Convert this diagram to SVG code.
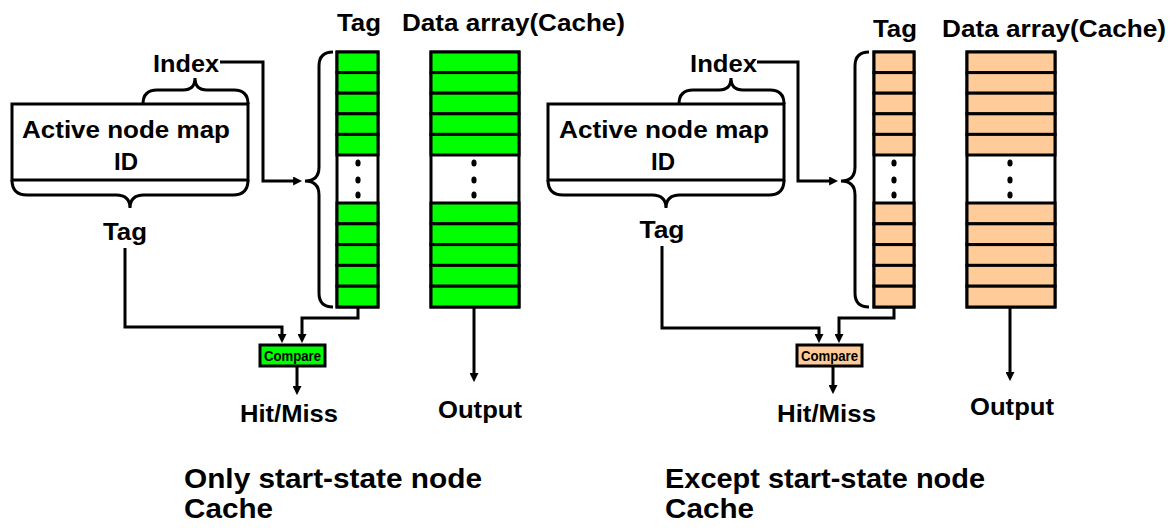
<svg xmlns="http://www.w3.org/2000/svg" width="1176" height="528" viewBox="0 0 1176 528">
  <style>
    text { font-family: "Liberation Sans", Arial, sans-serif; font-weight: bold; fill: #000; }
    .lbl { font-size: 24px; }
    .cap { font-size: 28px; }
    .cmp { font-size: 14px; }
    .line { fill: none; stroke: #000; stroke-width: 3; }
    .arr { fill: none; stroke: #000; stroke-width: 3; marker-end: url(#head); }
    .box { fill: #fff; stroke: #000; stroke-width: 3; }
    .green { fill: #00ff00; stroke: #000; stroke-width: 3; }
    .peach { fill: #ffcc99; stroke: #000; stroke-width: 3; }
    .dot { fill: #000; }
  </style>
  <defs>
    <marker id="head" viewBox="0 0 10 10" refX="1" refY="5" markerWidth="9" markerHeight="9" markerUnits="userSpaceOnUse" orient="auto">
      <path d="M0,0 L10,5 L0,10 z" fill="#000"/>
    </marker>
  </defs>

  <!-- ===== Left: only start-state node cache ===== -->
  <g id="left-address">
    <rect class="box" x="12" y="104" width="236" height="76"/>
    <text class="lbl" x="126" y="138" text-anchor="middle" textLength="208" lengthAdjust="spacingAndGlyphs">Active node map</text>
    <text class="lbl" x="126" y="170" text-anchor="middle">ID</text>
    <path class="line" d="M143,104 Q143,90 157,90 H183 Q195,90 195,78 Q195,90 207,90 H234 Q248,90 248,104"/>
    <path class="line" d="M12,180 Q12,195 27,195 H116 Q130,195 130,208 Q130,195 144,195 H233 Q248,195 248,180"/>
    <text class="lbl" x="186" y="72" text-anchor="middle" textLength="66" lengthAdjust="spacingAndGlyphs">Index</text>
    <text class="lbl" x="125" y="240" text-anchor="middle" textLength="44" lengthAdjust="spacingAndGlyphs">Tag</text>
  </g>

  <g id="left-tag-array">
    <text class="lbl" x="359" y="31" text-anchor="middle" textLength="44" lengthAdjust="spacingAndGlyphs">Tag</text>
    <path class="line" d="M333,52 Q319,52 319,66 V167 Q319,181 305,181 Q319,181 319,195 V293 Q319,307 333,307"/>
    <rect class="box" x="337" y="52" width="41" height="255"/>
    <rect class="green" x="337" y="52" width="41" height="20.6"/>
    <rect class="green" x="337" y="72.6" width="41" height="20.6"/>
    <rect class="green" x="337" y="93.2" width="41" height="20.6"/>
    <rect class="green" x="337" y="113.8" width="41" height="20.6"/>
    <rect class="green" x="337" y="134.4" width="41" height="20.6"/>
    <rect class="green" x="337" y="203" width="41" height="20.8"/>
    <rect class="green" x="337" y="223.8" width="41" height="20.8"/>
    <rect class="green" x="337" y="244.6" width="41" height="20.8"/>
    <rect class="green" x="337" y="265.4" width="41" height="20.8"/>
    <rect class="green" x="337" y="286.2" width="41" height="20.8"/>
    <ellipse class="dot" cx="358" cy="163" rx="2.6" ry="3.6"/>
    <ellipse class="dot" cx="358" cy="180" rx="2.6" ry="3.6"/>
    <ellipse class="dot" cx="358" cy="195" rx="2.6" ry="3.6"/>
  </g>

  <g id="left-data-array">
    <text class="lbl" x="402" y="31" textLength="223" lengthAdjust="spacingAndGlyphs">Data array(Cache)</text>
    <rect class="box" x="431" y="52" width="88" height="255"/>
    <rect class="green" x="431" y="52" width="88" height="20.6"/>
    <rect class="green" x="431" y="72.6" width="88" height="20.6"/>
    <rect class="green" x="431" y="93.2" width="88" height="20.6"/>
    <rect class="green" x="431" y="113.8" width="88" height="20.6"/>
    <rect class="green" x="431" y="134.4" width="88" height="20.6"/>
    <rect class="green" x="431" y="203" width="88" height="20.8"/>
    <rect class="green" x="431" y="223.8" width="88" height="20.8"/>
    <rect class="green" x="431" y="244.6" width="88" height="20.8"/>
    <rect class="green" x="431" y="265.4" width="88" height="20.8"/>
    <rect class="green" x="431" y="286.2" width="88" height="20.8"/>
    <ellipse class="dot" cx="474" cy="163" rx="2.6" ry="3.6"/>
    <ellipse class="dot" cx="474" cy="180" rx="2.6" ry="3.6"/>
    <ellipse class="dot" cx="474" cy="195" rx="2.6" ry="3.6"/>
  </g>

  <g id="left-compare">
    <rect class="green" x="260" y="345" width="65" height="21"/>
    <text class="cmp" x="292.5" y="361" text-anchor="middle" textLength="57" lengthAdjust="spacingAndGlyphs">Compare</text>
  </g>

  <g id="left-outputs">
    <text class="lbl" x="289" y="422" text-anchor="middle" textLength="98" lengthAdjust="spacingAndGlyphs">Hit/Miss</text>
    <text class="lbl" x="480" y="418" text-anchor="middle" textLength="84" lengthAdjust="spacingAndGlyphs">Output</text>
  </g>

  <g id="left-caption">
    <text class="cap" x="184" y="488" textLength="298" lengthAdjust="spacingAndGlyphs">Only start-state node</text>
    <text class="cap" x="184" y="518" textLength="89" lengthAdjust="spacingAndGlyphs">Cache</text>
  </g>

  <g id="left-connectors">
    <path class="arr" d="M220,62 H263 V181 H294"/>
    <path class="arr" d="M125,248 V327 H282 V335"/>
    <path class="arr" d="M358,307 V318 H302 V335"/>
    <path class="arr" d="M297,366 V387"/>
    <path class="arr" d="M474,307 V374"/>
  </g>

  <!-- ===== Right: except start-state node cache ===== -->
  <g id="right-address">
    <rect class="box" x="548" y="104" width="236" height="76"/>
    <text class="lbl" x="664" y="138" text-anchor="middle" textLength="210" lengthAdjust="spacingAndGlyphs">Active node map</text>
    <text class="lbl" x="663" y="170" text-anchor="middle">ID</text>
    <path class="line" d="M679,104 Q679,90 693,90 H719 Q731,90 731,78 Q731,90 743,90 H770 Q784,90 784,104"/>
    <path class="line" d="M548,180 Q548,195 563,195 H652 Q666,195 666,208 Q666,195 680,195 H769 Q784,195 784,180"/>
    <text class="lbl" x="723.5" y="72" text-anchor="middle" textLength="67" lengthAdjust="spacingAndGlyphs">Index</text>
    <text class="lbl" x="662" y="238" text-anchor="middle" textLength="45" lengthAdjust="spacingAndGlyphs">Tag</text>
  </g>

  <g id="right-tag-array">
    <text class="lbl" x="895" y="37" text-anchor="middle" textLength="44" lengthAdjust="spacingAndGlyphs">Tag</text>
    <path class="line" d="M869,52 Q855,52 855,66 V167 Q855,181 841,181 Q855,181 855,195 V293 Q855,307 869,307"/>
    <rect class="box" x="874" y="52" width="40" height="255"/>
    <rect class="peach" x="874" y="52" width="40" height="20.6"/>
    <rect class="peach" x="874" y="72.6" width="40" height="20.6"/>
    <rect class="peach" x="874" y="93.2" width="40" height="20.6"/>
    <rect class="peach" x="874" y="113.8" width="40" height="20.6"/>
    <rect class="peach" x="874" y="134.4" width="40" height="20.6"/>
    <rect class="peach" x="874" y="203" width="40" height="20.8"/>
    <rect class="peach" x="874" y="223.8" width="40" height="20.8"/>
    <rect class="peach" x="874" y="244.6" width="40" height="20.8"/>
    <rect class="peach" x="874" y="265.4" width="40" height="20.8"/>
    <rect class="peach" x="874" y="286.2" width="40" height="20.8"/>
    <ellipse class="dot" cx="894" cy="163" rx="2.6" ry="3.6"/>
    <ellipse class="dot" cx="894" cy="180" rx="2.6" ry="3.6"/>
    <ellipse class="dot" cx="894" cy="195" rx="2.6" ry="3.6"/>
  </g>

  <g id="right-data-array">
    <text class="lbl" x="942" y="37" textLength="224" lengthAdjust="spacingAndGlyphs">Data array(Cache)</text>
    <rect class="box" x="967" y="52" width="88" height="255"/>
    <rect class="peach" x="967" y="52" width="88" height="20.6"/>
    <rect class="peach" x="967" y="72.6" width="88" height="20.6"/>
    <rect class="peach" x="967" y="93.2" width="88" height="20.6"/>
    <rect class="peach" x="967" y="113.8" width="88" height="20.6"/>
    <rect class="peach" x="967" y="134.4" width="88" height="20.6"/>
    <rect class="peach" x="967" y="203" width="88" height="20.8"/>
    <rect class="peach" x="967" y="223.8" width="88" height="20.8"/>
    <rect class="peach" x="967" y="244.6" width="88" height="20.8"/>
    <rect class="peach" x="967" y="265.4" width="88" height="20.8"/>
    <rect class="peach" x="967" y="286.2" width="88" height="20.8"/>
    <ellipse class="dot" cx="1010" cy="163" rx="2.6" ry="3.6"/>
    <ellipse class="dot" cx="1010" cy="180" rx="2.6" ry="3.6"/>
    <ellipse class="dot" cx="1010" cy="195" rx="2.6" ry="3.6"/>
  </g>

  <g id="right-compare">
    <rect class="peach" x="797" y="345" width="65" height="21"/>
    <text class="cmp" x="829.5" y="361" text-anchor="middle" textLength="57" lengthAdjust="spacingAndGlyphs">Compare</text>
  </g>

  <g id="right-outputs">
    <text class="lbl" x="826.5" y="422" text-anchor="middle" textLength="99" lengthAdjust="spacingAndGlyphs">Hit/Miss</text>
    <text class="lbl" x="1012" y="415" text-anchor="middle" textLength="84" lengthAdjust="spacingAndGlyphs">Output</text>
  </g>

  <g id="right-caption">
    <text class="cap" x="665" y="488" textLength="320" lengthAdjust="spacingAndGlyphs">Except start-state node</text>
    <text class="cap" x="665" y="518" textLength="89" lengthAdjust="spacingAndGlyphs">Cache</text>
  </g>

  <g id="right-connectors">
    <path class="arr" d="M757,62 H798 V181 H830"/>
    <path class="arr" d="M662,246 V328 H819 V335"/>
    <path class="arr" d="M894,307 V318 H839 V335"/>
    <path class="arr" d="M833,366 V386"/>
    <path class="arr" d="M1010,307 V373"/>
  </g>
</svg>
